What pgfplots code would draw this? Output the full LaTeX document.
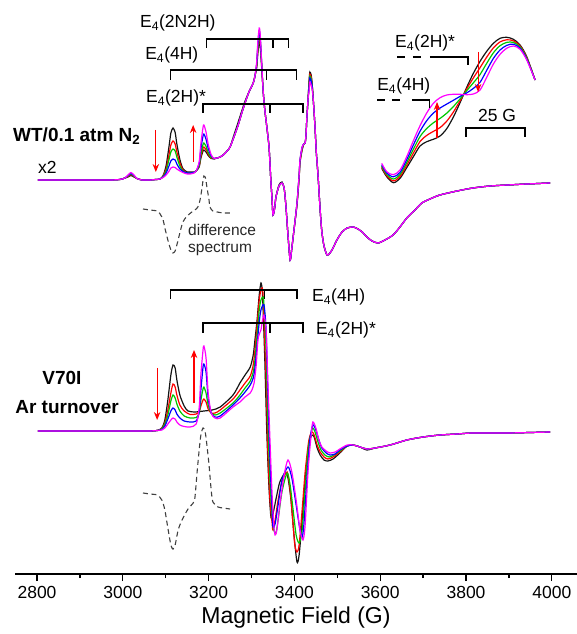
\documentclass[border=0pt]{standalone}
\usepackage{fontspec}
\setmainfont{Liberation Sans}
\usepackage{pgfplots}
\pgfplotsset{compat=1.18}
\usepackage{pgfplotstable}
\usetikzlibrary{arrows.meta}
\definecolor{cK}{RGB}{20,20,20}
\definecolor{cR}{RGB}{255,0,0}
\definecolor{cG}{RGB}{0,200,0}
\definecolor{cB}{RGB}{0,0,255}
\definecolor{cM}{RGB}{255,0,255}
\newcommand\ann{\fontsize{17.5}{20}\selectfont}

% WT / 0.1 atm N2 spectra (x2), one column per trace
\pgfplotstableread{
field k r g bl m
2802 -180 -180 -180 -180 -180
2854 -180 -180 -180 -180 -180
2924 -180 -180 -180 -180 -180
2970 -180 -180 -180 -180 -180
2993 -179.5 -179.5 -179.5 -179.5 -179.5
3005 -178 -178 -178 -178 -178
3012 -177 -176.5 -176 -175.5 -175
3019 -175.5 -174.5 -174 -173.5 -172.5
3026 -177 -176.5 -176 -175.5 -175
3033 -178.5 -178.5 -178.5 -178.5 -178.5
3045 -180 -180 -180 -180 -180
3063 -180 -180 -180 -180 -180
3077 -179.5 -179.5 -179.5 -179.5 -179.5
3087 -179 -179 -179 -179 -179
3094 -175.5 -176 -176.5 -177 -177.5
3101 -165.5 -169 -171 -173 -175
3108 -145.5 -154 -159 -165.5 -171
3112 -133 -145 -152 -161 -168
3117 -128 -141 -149 -159 -167
3122 -132.5 -144 -151 -160 -167.5
3126 -144 -152 -157 -164 -169
3133 -159.5 -163 -166 -169 -171
3140 -168.5 -170 -171 -171.5 -172.5
3150 -172 -173 -173 -173 -174
3157 -172 -173 -173 -173 -174
3166 -172 -172.5 -172.5 -172.5 -173
3171 -171 -171 -171 -171 -171
3178 -167 -166 -165.4 -163.6 -161.8
3182 -158 -156.5 -154 -148.8 -143.4
3187 -151 -148 -144.4 -135.9 -127.3
3189 -150 -147 -143 -134 -125
3194 -152 -149.6 -146.4 -139.2 -132
3199 -155.5 -154 -152.4 -148.3 -144.3
3206 -158.5 -158 -157.5 -156 -154.8
3213 -159 -158.5 -158.5 -158.5 -158.5
3220 -158 -158 -158 -158 -158
3227 -157 -157 -157 -157 -157
3234 -155 -155 -155 -155 -155
3243 -151 -151 -151 -151 -151
3250 -147 -147 -147 -147 -147
3259 -135 -137 -137 -137 -137
3269 -122 -125 -125 -125 -125
3278 -110 -112 -112 -112 -112
3285 -101 -103 -103 -103 -103
3294 -92 -92 -92 -92 -92
3304 -83 -83 -83 -83 -83
3308 -76 -76 -76 -76 -76
3312 -68 -66 -65 -64 -62
3315 -52 -49 -46 -43 -40
3318 -42 -37 -34 -31 -28
3320 -46 -41 -38 -36 -33
3322 -56 -53 -51 -50 -48
3327 -90 -90 -90 -90 -90
3331 -110 -110 -110 -110 -110
3336 -128 -128 -128 -128 -128
3341 -148 -148 -148 -148 -148
3345 -180 -180 -180 -180 -180
3348 -200 -200 -200 -200 -200
3350 -215 -215 -215 -215 -215
3354 -208 -208 -208 -208 -208
3357 -197 -197 -197 -197 -197
3364 -185 -186 -186 -186 -186
3371 -182 -183 -183 -183 -183
3376 -188 -188 -188 -188 -188
3380 -205 -205 -205 -205 -205
3385 -235 -235 -235 -235 -235
3390 -260 -260 -260 -260 -260
3394 -248 -248 -248 -248 -248
3399 -230 -230 -230 -230 -230
3406 -205 -204 -203 -203 -203
3411 -178 -177 -176 -175 -175
3413 -163 -162 -161 -160 -160
3418 -150 -149 -148 -147 -147
3422 -144 -144 -144 -144 -144
3425 -143 -143 -143 -143 -143
3427 -135 -135 -135 -135 -135
3429 -118 -118 -118 -118 -118
3432 -98 -98 -98 -98 -98
3434 -82 -84 -86 -88 -92
3436 -72 -74 -76 -78 -82
3439 -75 -77 -79 -81 -85
3441 -82 -83 -84 -85 -88
3444 -100 -100 -100 -100 -100
3448 -127 -127 -127 -127 -127
3451 -152 -152 -152 -152 -152
3455 -175 -175 -175 -175 -175
3460 -210 -210 -210 -210 -210
3464 -232 -232 -232 -232 -232
3469 -246 -246 -246 -246 -246
3476 -255 -255 -255 -255 -255
3483 -253 -253 -253 -253 -253
3490 -248 -248 -248 -248 -248
3499 -240 -240 -240 -240 -240
3511 -232 -232 -232 -232 -232
3523 -228 -228 -228 -228 -228
3537 -227 -227 -227 -227 -227
3548 -229 -229 -229 -229 -229
3558 -232 -232 -232 -232 -232
3569 -237 -237 -237 -237 -237
3581 -241 -241 -241 -241 -241
3595 -243 -243 -243 -243 -243
3611 -240 -240 -240 -240 -240
3630 -235 -235 -235 -235 -235
3646 -227 -227 -227 -227 -227
3662 -218 -218 -218 -218 -218
3681 -210 -210 -210 -210 -210
3697 -203 -203 -203 -203 -203
3716 -199 -199 -199 -199 -199
3739 -195 -195 -195 -195 -195
3779 -191 -191 -191 -191 -191
3816 -188 -188 -188 -188 -188
3856 -186 -186 -186 -186 -186
3896 -185 -185 -185 -185 -185
3942 -184 -184 -184 -184 -184
3996 -183 -183 -183 -183 -183
}\upper

% inset (field offset in G)
\pgfplotstableread{
u k r g bl m
-0.14 -168.3 -167.2 -166.0 -164.7 -163.3
1.98 -176.7 -175.6 -174.4 -173.0 -171.7
4.80 -182.7 -180.9 -179.0 -176.8 -174.7
7.63 -178.3 -176.5 -174.5 -172.4 -170.0
10.45 -167.7 -165.2 -162.6 -159.7 -156.7
13.28 -156.7 -153.1 -149.3 -145.0 -140.7
16.10 -146.0 -141.5 -136.6 -131.2 -125.7
18.93 -141.7 -135.4 -128.5 -120.7 -113.0
21.75 -139.3 -131.4 -122.8 -113.1 -103.3
24.58 -136.0 -127.6 -118.4 -108.0 -97.7
27.40 -128.7 -121.2 -113.2 -104.1 -95.0
30.23 -117.0 -112.0 -106.6 -100.3 -94.3
33.05 -102.7 -100.8 -98.9 -96.4 -94.3
35.88 -87.3 -88.9 -90.7 -92.9 -94.7
38.70 -73.3 -77.9 -82.8 -88.4 -94.0
41.53 -61.3 -67.6 -74.5 -82.3 -90.0
44.35 -51.3 -57.1 -63.3 -70.3 -77.3
47.18 -43.3 -47.9 -52.8 -58.4 -64.0
50.00 -38.3 -41.9 -45.7 -50.0 -54.3
52.82 -37.3 -39.8 -42.4 -45.4 -48.3
55.65 -39.3 -40.8 -42.4 -44.2 -46.0
58.47 -45.0 -46.0 -47.0 -48.2 -49.3
61.30 -56.7 -57.4 -58.2 -59.1 -60.0
64.83 -80.0 -80.0 -80.0 -80.0 -80.0
}\inset

\begin{document}
\begin{tikzpicture}
\begin{axis}[name=main, at={(0,0)}, anchor=south west,
  width=562pt, height=574pt, scale only axis,
  xmin=2748.7, xmax=4058.7, ymin=-574, ymax=0,
  axis x line=bottom, axis y line=none,
  axis line style={-, line width=1.4pt, black},
  xtick={2800,3000,...,4000}, minor xtick={2900,3100,...,3900},
  tick align=outside, major tick length=7pt, minor tick length=4pt,
  every tick/.style={line width=1.3pt, black},
  xticklabel style={font=\fontsize{17.5}{20}\selectfont, yshift=-2pt},
  /pgf/number format/assume math mode=true,
  /pgf/number format/1000 sep={},
  xlabel={Magnetic Field (G)},
  xlabel style={font=\fontsize{23}{26}\selectfont, yshift=-1pt},
  clip=false,
  every axis plot/.append style={line width=1.2pt, smooth, tension=0.45},
]
% upper spectra
\addplot[cK] table[x=field, y=k] {\upper};
\addplot[cR] table[x=field, y=r] {\upper};
\addplot[cG] table[x=field, y=g] {\upper};
\addplot[cB] table[x=field, y=bl] {\upper};
\addplot[cM] table[x=field, y=m] {\upper};

% lower spectra (V70I)
\addplot[cK] coordinates {(2802,-431)(2854,-431)(2924,-431)(2970,-431)(3019,-431)(3063,-431)(3080,-430.5)(3091,-428)(3098,-420)(3105,-400)(3112,-375)(3117,-365)(3122,-368)(3126,-380)(3133,-395)(3143,-406)(3152,-411)(3168,-412)(3189,-411)(3208,-410)(3227,-407)(3257,-395)(3273,-383)(3285,-375)(3297,-367)(3304,-355)(3308,-340)(3313,-320)(3318,-295)(3322,-283)(3325,-290)(3327,-310)(3331,-360)(3336,-437)(3341,-490)(3345,-516)(3348,-518)(3352,-510)(3359,-495)(3366,-482)(3378,-473)(3385,-478)(3392,-500)(3399,-535)(3406,-562)(3411,-555)(3418,-520)(3425,-480)(3432,-450)(3436,-440)(3441,-435)(3446,-437)(3453,-448)(3460,-455)(3469,-460)(3478,-461)(3490,-459)(3506,-453)(3523,-446)(3537,-445)(3553,-447)(3569,-450)(3588,-448)(3623,-445)(3662,-440)(3700,-437)(3739,-435)(3779,-434)(3816,-433)(3896,-433)(3996,-432)};
\addplot[cR] coordinates {(2802,-431)(2854,-431)(2924,-431)(2970,-431)(3019,-431)(3063,-431)(3080,-430.5)(3091,-428.5)(3098,-423)(3105,-410)(3112,-393)(3117,-384)(3122,-387)(3126,-395)(3133,-405)(3143,-411)(3157,-414.5)(3171,-414)(3178,-412)(3182,-406)(3187,-400)(3189,-399)(3194,-402)(3199,-409)(3206,-413)(3215,-413)(3227,-410)(3257,-399)(3273,-390)(3285,-383)(3297,-376)(3304,-365)(3308,-350)(3313,-325)(3318,-300)(3322,-290)(3325,-288)(3327,-295)(3329,-320)(3334,-380)(3338,-450)(3343,-500)(3348,-523)(3350,-530)(3355,-520)(3362,-500)(3371,-482)(3383,-472)(3390,-490)(3397,-525)(3401,-545)(3406,-552)(3411,-545)(3418,-510)(3425,-472)(3432,-445)(3436,-436)(3441,-432)(3446,-435)(3453,-445)(3460,-452)(3469,-457)(3478,-459)(3490,-457)(3506,-452)(3523,-446)(3537,-445)(3553,-447)(3569,-449)(3588,-448)(3623,-445)(3662,-440)(3700,-437)(3739,-435)(3779,-434)(3816,-433)(3896,-433)(3996,-432)};
\addplot[cG] coordinates {(2802,-431)(2854,-431)(2924,-431)(2970,-431)(3019,-431)(3063,-431)(3080,-430.5)(3091,-429)(3098,-424)(3105,-415)(3112,-401)(3117,-395)(3122,-398)(3126,-404)(3133,-411)(3143,-416)(3157,-418)(3171,-417.5)(3178,-413)(3182,-400)(3187,-389)(3189,-387)(3194,-393)(3199,-405)(3206,-413)(3215,-415)(3227,-413)(3257,-403)(3273,-395)(3285,-388)(3297,-381)(3304,-372)(3308,-360)(3313,-335)(3318,-310)(3322,-300)(3327,-297)(3329,-305)(3334,-350)(3338,-420)(3343,-480)(3348,-515)(3352,-530)(3357,-533)(3362,-520)(3371,-492)(3383,-473)(3390,-485)(3397,-510)(3404,-535)(3411,-543)(3418,-530)(3425,-490)(3432,-450)(3439,-433)(3443,-428)(3448,-432)(3455,-442)(3462,-450)(3471,-455)(3481,-457)(3492,-455)(3506,-451)(3523,-446)(3537,-445)(3553,-447)(3569,-449)(3588,-448)(3623,-445)(3662,-440)(3700,-437)(3739,-435)(3779,-434)(3816,-433)(3896,-433)(3996,-432)};
\addplot[cB] coordinates {(2802,-431)(2854,-431)(2924,-431)(2970,-431)(3019,-431)(3063,-431)(3080,-430.5)(3091,-429.5)(3098,-426)(3105,-419)(3112,-411)(3117,-408)(3122,-410)(3126,-414)(3133,-418)(3143,-421)(3157,-422)(3171,-421)(3178,-412)(3182,-390)(3187,-367)(3189,-364)(3194,-372)(3199,-398)(3206,-413)(3215,-417)(3227,-416)(3257,-405)(3273,-398)(3285,-392)(3297,-385)(3304,-378)(3308,-368)(3313,-345)(3318,-322)(3322,-310)(3329,-305)(3334,-330)(3338,-390)(3343,-460)(3348,-510)(3350,-527)(3355,-524)(3362,-505)(3371,-480)(3385,-467)(3394,-478)(3404,-505)(3413,-530)(3418,-537)(3422,-525)(3429,-480)(3436,-440)(3443,-425)(3450,-430)(3457,-440)(3464,-448)(3474,-453)(3483,-455)(3495,-454)(3506,-450)(3523,-446)(3537,-445)(3553,-447)(3569,-449)(3588,-448)(3623,-445)(3662,-440)(3700,-437)(3739,-435)(3779,-434)(3816,-433)(3896,-433)(3996,-432)};
\addplot[cM] coordinates {(2802,-431)(2854,-431)(2924,-431)(2970,-431)(3019,-431)(3063,-431)(3080,-430.5)(3091,-430)(3098,-428)(3105,-424)(3112,-420)(3117,-418)(3122,-419)(3126,-422)(3133,-425)(3143,-426.5)(3157,-427)(3171,-424)(3178,-408)(3182,-375)(3187,-350)(3189,-346)(3194,-358)(3199,-393)(3206,-413)(3215,-418)(3227,-418)(3257,-407)(3273,-402)(3285,-397)(3297,-393)(3301,-390)(3306,-383)(3311,-365)(3315,-340)(3320,-332)(3322,-330)(3325,-322)(3329,-315)(3334,-330)(3338,-380)(3343,-440)(3348,-495)(3352,-525)(3355,-535)(3359,-530)(3366,-505)(3376,-475)(3385,-460)(3394,-472)(3404,-500)(3413,-530)(3420,-540)(3425,-525)(3432,-470)(3439,-435)(3443,-422)(3450,-428)(3457,-440)(3464,-447)(3474,-451)(3483,-453)(3495,-452)(3506,-449)(3523,-445)(3537,-445)(3553,-447)(3569,-449)(3588,-448)(3623,-445)(3662,-440)(3700,-437)(3739,-435)(3779,-434)(3816,-433)(3896,-433)(3996,-432)};

% difference spectra (dashed)
\addplot[black!75, line width=1.1pt, dash pattern=on 5pt off 3.5pt] coordinates {(3047,-209)(3063,-210)(3080,-211)(3087,-214)(3094,-220)(3098,-228)(3105,-240)(3112,-250)(3117,-253)(3122,-251)(3126,-245)(3133,-233)(3140,-222)(3150,-216)(3161,-212)(3168,-210)(3175,-207)(3180,-200)(3185,-187)(3187,-180)(3189,-176)(3192,-177)(3194,-181)(3196,-187)(3201,-200)(3203,-207)(3210,-211)(3220,-212)(3234,-213)(3250,-213)};
\addplot[black!75, line width=1.1pt, dash pattern=on 5pt off 3.5pt] coordinates {(3047,-493)(3063,-494)(3080,-495)(3091,-500)(3098,-510)(3105,-528)(3112,-545)(3117,-549)(3122,-545)(3129,-530)(3138,-520)(3152,-509)(3164,-503)(3168,-498)(3173,-473)(3178,-450)(3182,-435)(3187,-428)(3192,-432)(3196,-445)(3201,-465)(3206,-490)(3210,-502)(3222,-507)(3234,-508)(3250,-509)};

% brackets
\draw[line width=1.2pt, black] (axis cs:3196,-48) -- (axis cs:3196,-39) -- (axis cs:3387,-39) -- (axis cs:3387,-48) (axis cs:3350,-39) -- (axis cs:3350,-48);
\draw[line width=1.2pt, black] (axis cs:3112,-80) -- (axis cs:3112,-70) -- (axis cs:3404,-70) -- (axis cs:3404,-80) (axis cs:3334,-70) -- (axis cs:3334,-80);
\draw[line width=1.2pt, black] (axis cs:3187,-113) -- (axis cs:3187,-104) -- (axis cs:3420,-104) -- (axis cs:3420,-113) (axis cs:3343,-104) -- (axis cs:3343,-113);
\draw[line width=1.2pt, black] (axis cs:3112,-299) -- (axis cs:3112,-290) -- (axis cs:3406,-290) -- (axis cs:3406,-299) (axis cs:3331,-290) -- (axis cs:3331,-299);
\draw[line width=1.2pt, black] (axis cs:3187,-333) -- (axis cs:3187,-323) -- (axis cs:3420,-323) -- (axis cs:3420,-333) (axis cs:3343,-323) -- (axis cs:3343,-333);

% arrows
\tikzset{redarrow/.style={cR, line width=1.1pt, -{Stealth[length=8pt,width=6.5pt]}}}
\draw[redarrow] (axis cs:3077,-130) -- (axis cs:3077,-172);
\draw[redarrow] (axis cs:3164,-162) -- (axis cs:3164,-125);
\draw[redarrow] (axis cs:3080,-368) -- (axis cs:3080,-420);
\draw[redarrow] (axis cs:3166,-403) -- (axis cs:3166,-350);

% labels
\node[anchor=west, inner sep=0pt, font=\ann] at (axis cs:3040,-23) {E\textsubscript{4}(2N2H)};
\node[anchor=west, inner sep=0pt, font=\ann] at (axis cs:3052,-55) {E\textsubscript{4}(4H)};
\node[anchor=west, inner sep=0pt, font=\ann] at (axis cs:3054,-98) {E\textsubscript{4}(2H)*};
\node[anchor=west, inner sep=0pt, font=\bfseries\fontsize{19}{22}\selectfont] at (axis cs:2744,-136) {WT/0.1 atm N\textsubscript{2}};
\node[anchor=west, inner sep=0pt, font=\ann] at (axis cs:2802,-167) {x2};
\node[anchor=west, inner sep=0pt, align=left, font=\fontsize{15.5}{17}\selectfont, text=black!85] at (axis cs:3152,-240) {difference\\spectrum};
\node[anchor=west, inner sep=0pt, font=\bfseries\fontsize{19}{22}\selectfont] at (axis cs:2812,-378) {V70I};
\node[anchor=west, inner sep=0pt, font=\bfseries\fontsize{19}{22}\selectfont] at (axis cs:2749,-407) {Ar turnover};
\node[anchor=west, inner sep=0pt, font=\ann] at (axis cs:3441,-297) {E\textsubscript{4}(4H)};
\node[anchor=west, inner sep=0pt, font=\ann] at (axis cs:3450,-330) {E\textsubscript{4}(2H)*};
\end{axis}

% inset (magnified region, field offset in G)
\begin{axis}[at={(0,0)}, anchor=south west,
  width=562pt, height=574pt, scale only axis,
  xmin=-155.5, xmax=82.6, ymin=-574, ymax=0,
  hide axis, clip=false,
  every axis plot/.append style={line width=1.2pt, smooth, tension=0.5},
]
\addplot[cK] table[x=u, y=k] {\inset};
\addplot[cR] table[x=u, y=r] {\inset};
\addplot[cG] table[x=u, y=g] {\inset};
\addplot[cB] table[x=u, y=bl] {\inset};
\addplot[cM] table[x=u, y=m] {\inset};
\node[anchor=west, inner sep=0pt, font=\ann] at (axis cs:5.5,-43) {E\textsubscript{4}(2H)*};
\node[anchor=west, inner sep=0pt, font=\ann] at (axis cs:-2.1,-86) {E\textsubscript{4}(4H)};
\node[inner sep=0pt, font=\ann] at (axis cs:48.7,-115) {25 G};
\draw[line width=1.2pt] (axis cs:6.4,-57) -- (axis cs:9.7,-57) (axis cs:13.1,-57) -- (axis cs:16.5,-57) (axis cs:20.3,-57) -- (axis cs:36.4,-57) -- (axis cs:36.4,-65);
\draw[line width=1.2pt] (axis cs:-2.1,-100) -- (axis cs:1.3,-100) (axis cs:4.2,-100) -- (axis cs:7.6,-100) (axis cs:12.6,-100) -- (axis cs:20.0,-100) -- (axis cs:20.0,-108);
\draw[line width=1.2pt] (axis cs:35.6,-137) -- (axis cs:35.6,-128) -- (axis cs:60.6,-128) -- (axis cs:60.6,-137);
\draw[cR, line width=1.1pt, -{Stealth[length=8pt,width=6.5pt]}] (axis cs:23.3,-138) -- (axis cs:23.3,-102);
\draw[cR, line width=1.1pt, -{Stealth[length=8pt,width=6.5pt]}] (axis cs:40.7,-52) -- (axis cs:40.7,-92);
\end{axis}
\pgfresetboundingbox
\path[use as bounding box] (-15pt,-60pt) rectangle (562pt,574pt);
\end{tikzpicture}
\end{document}
